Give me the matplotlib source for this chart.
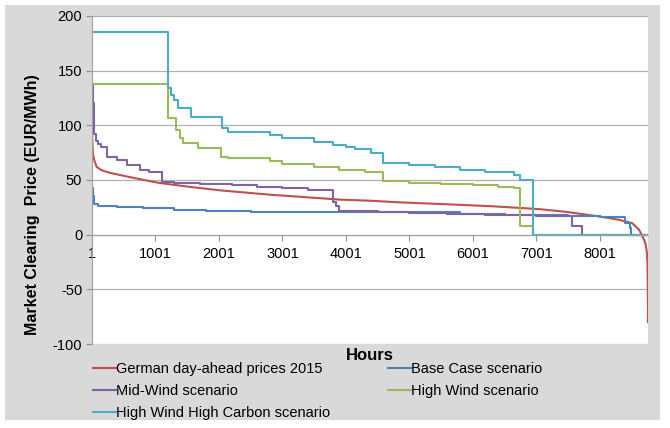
import matplotlib.pyplot as plt
from matplotlib.patches import Rectangle

plt.rcParams['font.family'] = ['Liberation Sans', 'DejaVu Sans']
plt.rcParams['axes.unicode_minus'] = False

# German day-ahead prices 2015 (sorted duration curve)
red_h = [1, 5, 15, 37, 75, 150, 285, 650, 1030, 1500, 2025, 2816, 3560, 3924, 4400, 4830,
         5510, 6300, 7040, 7450, 7990, 8300, 8510, 8620, 8660, 8715, 8740, 8752, 8756, 8759, 8760]
red_v = [100, 88, 74, 68, 62, 59, 56.5, 52, 47.6, 44, 40.5, 36.5, 33.5, 32, 31, 29.6,
         28, 26, 23.4, 21, 16.7, 13.6, 10.6, 4.5, 0, -7, -15, -25, -45, -65, -80]

# Base Case scenario
blue_h = [1, 15, 30, 100, 400, 800, 1300, 1800, 2500, 5800, 6500, 7500, 8000, 8400, 8480, 8500, 8760]
blue_v = [43, 35, 28, 26, 25, 24, 23, 22, 21, 19, 18, 17, 16.5, 11, 6, 0, 0]

# Mid-Wind scenario
purple_h = [1, 20, 30, 40, 60, 90, 150, 230, 400, 560, 760, 900, 1110, 1300, 1700, 2200, 2600,
            3000, 3400, 3790, 3840, 3890, 4500, 5000, 5600, 6200, 7000, 7560, 7720, 8760]
purple_v = [137, 120, 100, 92, 86, 83, 80, 71, 68, 64, 59, 57, 48, 47, 46, 45, 44,
            43, 41, 30, 26, 22, 21, 20, 19, 18, 17, 7.5, 0, 0]

# High Wind scenario
green_h = [1, 1200, 1320, 1390, 1435, 1670, 2030, 2150, 2800, 3000, 3500, 3900, 4300, 4590,
           5000, 5500, 6000, 6400, 6650, 6740, 6950, 8760]
green_v = [138, 107, 96, 88, 84, 79, 71, 70, 67, 65, 62, 59, 57, 49,
           47, 46, 45, 44, 43, 7.5, 0, 0]

# High Wind High Carbon scenario
cyan_h = [1, 1200, 1250, 1300, 1360, 1560, 2050, 2150, 2800, 3000, 3500, 3800, 4000, 4150, 4400,
          4590, 5000, 5400, 5800, 6200, 6650, 6740, 6950, 8760]
cyan_v = [185, 134, 128, 123, 116, 108, 98, 94, 91, 88, 85, 82, 80, 78, 75,
          66, 64, 62, 59, 57, 55, 50, 0, 0]

labels = ['German day-ahead prices 2015', 'Base Case scenario', 'Mid-Wind scenario',
          'High Wind scenario', 'High Wind High Carbon scenario']
colors = ['#c0504d', '#4f81bd', '#8064a2', '#9bbb59', '#4bacc6']
x_ticks = [1, 1001, 2001, 3001, 4001, 5001, 6001, 7001, 8001]
y_ticks = [-100, -50, 0, 50, 100, 150, 200]

fig = plt.figure(figsize=(6.7, 4.28), dpi=100)
fig.patch.set_facecolor('white')
bg = Rectangle((5 / 670, 8 / 428), 655 / 670, 415 / 428, transform=fig.transFigure,
               facecolor='#d9d9d9', edgecolor='none', zorder=-10)
fig.patches.append(bg)

ax = fig.add_axes([92 / 670, 1 - 344 / 428, 556 / 670, 328 / 428])
ax.set_facecolor('white')

lw = 1.5
lines = []
lines += ax.plot(red_h, red_v, color=colors[0], lw=lw)
lines += ax.step(blue_h, blue_v, where='post', color=colors[1], lw=lw)
lines += ax.step(purple_h, purple_v, where='post', color=colors[2], lw=lw)
lines += ax.step(green_h, green_v, where='post', color=colors[3], lw=lw)
lines += ax.step(cyan_h, cyan_v, where='post', color=colors[4], lw=lw)

ax.set_xlim(1, 8760)
ax.set_ylim(-100, 200)
ax.set_xticks(x_ticks)
ax.set_yticks(y_ticks)
ax.tick_params(axis='both', labelsize=10.5, colors='#909090', length=4, width=0.8)
ax.tick_params(axis='y', pad=3, labelcolor='black')
ax.tick_params(axis='x', pad=5, labelcolor='black')
ax.grid(axis='y', color='#b0b0b0', lw=0.9)
ax.set_axisbelow(True)

for s in ['top', 'right']:
    ax.spines[s].set_visible(False)
ax.spines['bottom'].set_position(('data', 0))
ax.spines['bottom'].set_color('#a0a0a0')
ax.spines['left'].set_color('#a0a0a0')

fig.text(370 / 670, 1 - 355 / 428, 'Hours', ha='center', va='center', fontsize=12, fontweight='bold')
fig.text(33 / 670, 1 - 205 / 428, 'Market Clearing  Price (EUR/MWh)', ha='center', va='center',
         rotation=90, fontsize=11.5, fontweight='bold')

# row-major order like the original legend
order = [0, 2, 4, 1, 3]
fig.legend([lines[i] for i in order], [labels[i] for i in order],
           loc='upper left', bbox_to_anchor=(93 / 670, 1 - 362 / 428), ncol=2, frameon=False,
           fontsize=10.5, handlelength=1.6, handletextpad=0.0, columnspacing=3.95,
           labelspacing=0.55, borderaxespad=0, borderpad=0)

fig.savefig('out.png', dpi=100, facecolor=fig.get_facecolor())
